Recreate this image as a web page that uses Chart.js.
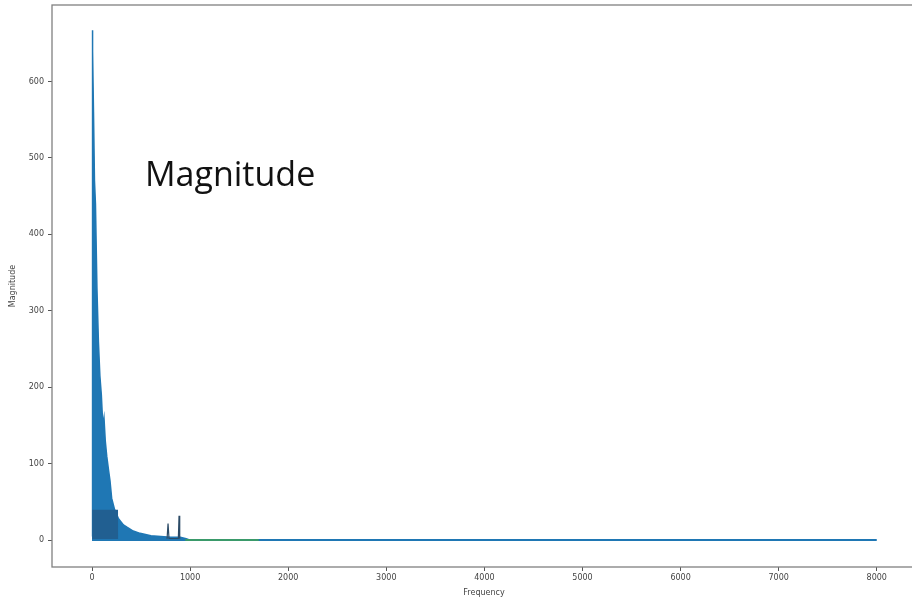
<!DOCTYPE html>
<html>
<head>
<meta charset="utf-8">
<script src="https://cdn.jsdelivr.net/npm/chart.js@4.4.1/dist/chart.umd.min.js"></script>
<style>
    html, body { margin: 0; padding: 0; overflow: hidden; background: #fff; }
    #wrap { position: relative; width: 912px; height: 604px; overflow: hidden; }
    #overlay {
        position: absolute; left: 145px; top: 150px;
        font-family: 'Open Sans', sans-serif; font-size: 34px; color: #111;
        white-space: nowrap;
    }
</style>
</head>
<body>
<div id="wrap">
    <canvas id="myChart" width="920" height="604"></canvas>
    <div id="overlay">Magnitude</div>
</div>
<script>
// spectrum envelope (Hz, magnitude)
const envFreq = [0, 3, 8, 15, 25, 35, 50, 65, 80, 95, 110, 122, 135, 150, 170, 183, 200, 230, 270, 320, 356, 420, 490, 600, 700, 800, 900, 960, 1000];
const envMag = [5, 667, 640, 560, 470, 440, 330, 260, 215, 190, 150, 160, 130, 110, 90, 78, 55, 40, 28, 20, 17, 12, 9, 6, 5, 4, 4, 2, 0];

// dense low band (darker)
const bandFreq = [0, 2, 265, 268];
const bandMag = [0, 40, 40, 0];

// two narrow peaks near 800-900 Hz
const spikeFreq = [765, 775, 785, 880, 887, 894];
const spikeMag = [2, 22, 2, 2, 32, 2];

// flat tail
const tailFreq = [0, 8000];
const tailMag = [0.3, 0.3];
const greenFreq = [950, 1700];
const greenMag = [0.3, 0.3];

const xTicks = [0, 1000, 2000, 3000, 4000, 5000, 6000, 7000, 8000];
const yTicks = [0, 100, 200, 300, 400, 500, 600];

function pts(xs, ys) {
    return xs.map((x, i) => ({ x: x, y: ys[i] }));
}

const frame = {
    id: 'frame',
    afterDraw(chart) {
        const a = chart.chartArea;
        const c = chart.ctx;
        c.save();
        c.strokeStyle = '#808080';
        c.lineWidth = 1.3;
        c.strokeRect(a.left, a.top, a.right - a.left, a.bottom - a.top);
        c.restore();
    }
};

const tickFont = { family: 'DejaVu Sans', size: 8 };

var ctx = document.getElementById('myChart').getContext('2d');
var myChart = new Chart(ctx, { //eslint-disable-line
    type: 'line',
    data: {
        datasets: [{
            data: pts(envFreq, envMag),
            borderColor: '#1f77b4',
            backgroundColor: '#1f77b4',
            borderWidth: 1.5,
            fill: 'origin',
            pointRadius: 0,
            order: 5
        }, {
            data: pts(bandFreq, bandMag),
            borderColor: '#215f91',
            backgroundColor: '#215f91',
            borderWidth: 0,
            fill: 'origin',
            pointRadius: 0,
            order: 4
        }, {
            data: pts(spikeFreq, spikeMag),
            borderColor: '#2b4a66',
            backgroundColor: '#2b4a66',
            borderWidth: 1.2,
            fill: false,
            pointRadius: 0,
            order: 3
        }, {
            data: pts(tailFreq, tailMag),
            borderColor: '#1f77b4',
            borderWidth: 2,
            fill: false,
            pointRadius: 0,
            order: 2
        }, {
            data: pts(greenFreq, greenMag),
            borderColor: '#3a9a6a',
            borderWidth: 2,
            fill: false,
            pointRadius: 0,
            order: 1
        }]
    },
    options: {
        responsive: false,
        animation: false,
        devicePixelRatio: 1,
        layout: { padding: { top: 5, right: 4, left: 0, bottom: 0 } },
        plugins: {
            legend: { display: false },
            tooltip: { enabled: false }
        },
        scales: {
            x: {
                type: 'linear',
                min: -408,
                max: 8400,
                afterBuildTicks: (s) => { s.ticks = xTicks.map(v => ({ value: v })); },
                afterFit: (s) => { s.height = 37; s.paddingLeft = 0; s.paddingRight = 0; },
                border: { display: false },
                grid: { drawOnChartArea: false, drawTicks: true, tickLength: 4, tickColor: '#555' },
                ticks: { font: tickFont, color: '#444', padding: 2, maxRotation: 0, callback: (v) => String(v) },
                title: { display: true, text: 'Frequency', font: tickFont, color: '#444', padding: { top: 0, bottom: 6 } }
            },
            y: {
                min: -35,
                max: 700,
                afterBuildTicks: (s) => { s.ticks = yTicks.map(v => ({ value: v })); },
                afterFit: (s) => { s.width = 52; s.paddingTop = 0; s.paddingBottom = 0; },
                border: { display: false },
                grid: { drawOnChartArea: false, drawTicks: true, tickLength: 4, tickColor: '#555' },
                ticks: { font: tickFont, color: '#444', padding: 4, callback: (v) => String(v) },
                title: { display: true, text: 'Magnitude', font: tickFont, color: '#444', padding: { top: 8, bottom: 0 } }
            }
        }
    },
    plugins: [frame]
});
</script>
</body>
</html>
